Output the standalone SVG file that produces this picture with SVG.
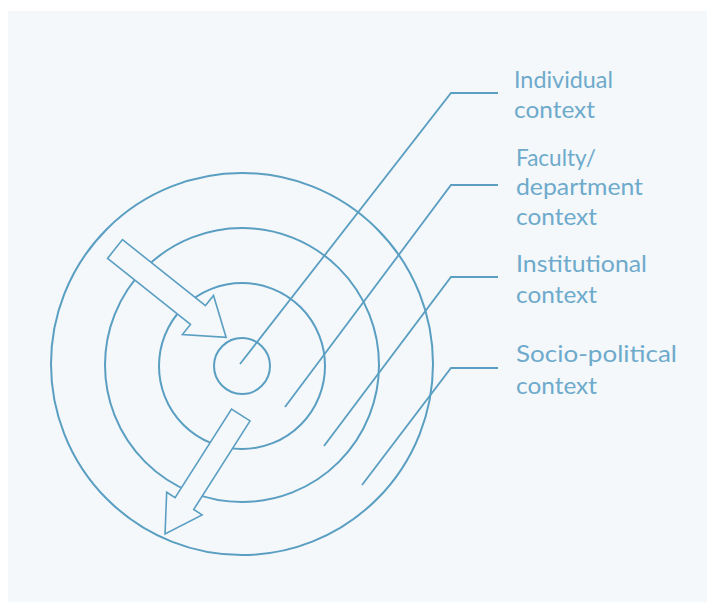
<svg xmlns="http://www.w3.org/2000/svg" width="707" height="602" viewBox="0 0 707 602">
  <defs>
    <style>
      .ring { fill: none; stroke: #5a9ec2; stroke-width: 2; }
      .lead { fill: none; stroke: #5a9ec2; stroke-width: 1.8; stroke-linejoin: miter; }
      .arrow { fill: #f4f8fb; stroke: #5a9ec2; stroke-width: 1.6; stroke-linejoin: miter; }
      .lbl { font-family: "Lato", "Open Sans", "Liberation Sans", sans-serif; font-size: 24px; fill: #6eaacb; }
    </style>
  </defs>
  <rect x="0" y="0" width="707" height="602" fill="#ffffff"/>
  <rect x="8" y="11" width="699" height="591" fill="#f4f8fb"/>

  <g id="ring-socio-political"><circle class="ring" cx="242" cy="364" r="191"/></g>
  <g id="ring-institutional"><circle class="ring" cx="242" cy="365" r="137"/></g>
  <g id="ring-faculty"><circle class="ring" cx="242" cy="366" r="83"/></g>
  <g id="ring-individual"><circle class="ring" cx="242" cy="366" r="28"/></g>

  <g id="connectors">
    <polyline class="lead" points="240,364 451,93 498,93"/>
    <polyline class="lead" points="285,407 451,185 498,185"/>
    <polyline class="lead" points="324,446 451,277 498,277"/>
    <polyline class="lead" points="362,485 451,368 498,368"/>
  </g>

  <g id="arrow-in">
    <path class="arrow" transform="translate(115,249) rotate(38.5)" d="M0,-12 L106,-12 L106,-25 L142,0 L106,25 L106,12 L0,12 Z"/>
  </g>
  <g id="arrow-out">
    <path class="arrow" transform="translate(240.8,415) rotate(122.5)" d="M0,-11 L105,-11 L105,-21 L141,0 L105,21 L105,11 L0,11 Z"/>
  </g>

  <g id="label-individual">
    <text class="lbl" x="514" y="88" textLength="99" lengthAdjust="spacingAndGlyphs">Individual</text>
    <text class="lbl" x="514" y="118" textLength="81" lengthAdjust="spacingAndGlyphs">context</text>
  </g>
  <g id="label-faculty">
    <text class="lbl" x="516" y="166" textLength="80" lengthAdjust="spacingAndGlyphs">Faculty/</text>
    <text class="lbl" x="516" y="195" textLength="127" lengthAdjust="spacingAndGlyphs">department</text>
    <text class="lbl" x="516" y="225" textLength="81" lengthAdjust="spacingAndGlyphs">context</text>
  </g>
  <g id="label-institutional">
    <text class="lbl" x="516" y="272" textLength="131" lengthAdjust="spacingAndGlyphs">Institutional</text>
    <text class="lbl" x="516" y="303" textLength="81" lengthAdjust="spacingAndGlyphs">context</text>
  </g>
  <g id="label-socio-political">
    <text class="lbl" x="516" y="362" textLength="161" lengthAdjust="spacingAndGlyphs">Socio-political</text>
    <text class="lbl" x="516" y="394" textLength="81" lengthAdjust="spacingAndGlyphs">context</text>
  </g>
</svg>
